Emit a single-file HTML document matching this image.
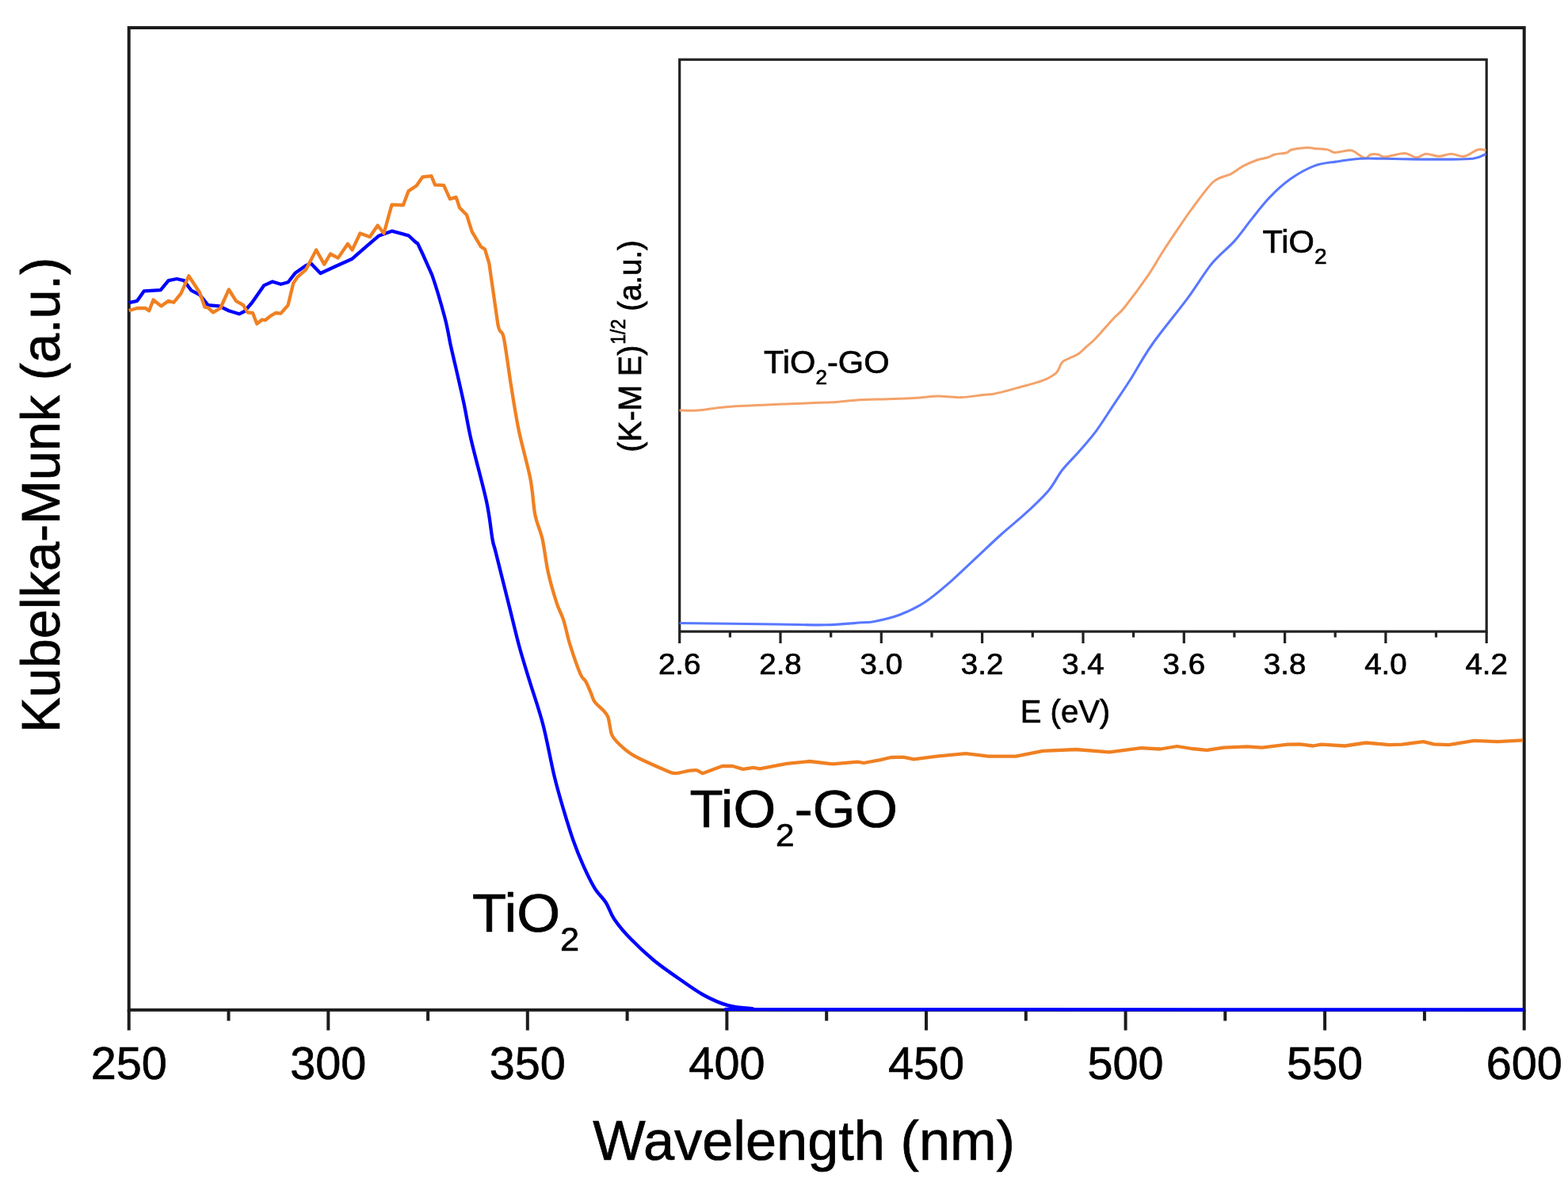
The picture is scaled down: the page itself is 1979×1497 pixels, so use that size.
<!DOCTYPE html><html><head><meta charset="utf-8"><title>Kubelka-Munk spectra</title>
<style>html,body{margin:0;padding:0;background:#fff;overflow:hidden}svg{display:block}text{font-family:"Liberation Sans", Arial, Helvetica, sans-serif;fill:#000;stroke:#000;stroke-width:0.7px;paint-order:stroke}</style></head><body>
<svg width="1979" height="1497" viewBox="0 0 1979 1497">
<rect width="1979" height="1497" fill="#fff"/>
<rect x="162.7" y="35.0" width="1761.0" height="1239.8" fill="none" stroke="#1c1c1c" stroke-width="4"/>
<path d="M162.7 1274.8V1300.5M288.5 1274.8V1288.5M414.3 1274.8V1300.5M540.1 1274.8V1288.5M665.8 1274.8V1300.5M791.6 1274.8V1288.5M917.4 1274.8V1300.5M1043.2 1274.8V1288.5M1169.0 1274.8V1300.5M1294.8 1274.8V1288.5M1420.6 1274.8V1300.5M1546.3 1274.8V1288.5M1672.1 1274.8V1300.5M1797.9 1274.8V1288.5M1923.7 1274.8V1300.5" stroke="#1c1c1c" stroke-width="4" fill="none"/>
<text transform="translate(162.7 1362.4) scale(0.99 1)" font-size="58.2" text-anchor="middle">250</text>
<text transform="translate(414.3 1362.4) scale(0.99 1)" font-size="58.2" text-anchor="middle">300</text>
<text transform="translate(665.8 1362.4) scale(0.99 1)" font-size="58.2" text-anchor="middle">350</text>
<text transform="translate(917.4 1362.4) scale(0.99 1)" font-size="58.2" text-anchor="middle">400</text>
<text transform="translate(1169.0 1362.4) scale(0.99 1)" font-size="58.2" text-anchor="middle">450</text>
<text transform="translate(1420.6 1362.4) scale(0.99 1)" font-size="58.2" text-anchor="middle">500</text>
<text transform="translate(1672.1 1362.4) scale(0.99 1)" font-size="58.2" text-anchor="middle">550</text>
<text transform="translate(1923.7 1362.4) scale(0.99 1)" font-size="58.2" text-anchor="middle">600</text>
<text transform="translate(1014.6 1463.5) scale(1.005 1)" font-size="70" text-anchor="middle">Wavelength (nm)</text>
<text transform="translate(74.8 624.8) rotate(-90) scale(0.966 1)" font-size="69" text-anchor="middle">Kubelka-Munk (a.u.)</text>
<rect x="857.7" y="75.2" width="1018.5" height="721.9" fill="none" stroke="#222" stroke-width="3.2"/>
<path d="M857.7 797.1V812.0M921.4 797.1V804.5M985.0 797.1V812.0M1048.7 797.1V804.5M1112.3 797.1V812.0M1176.0 797.1V804.5M1239.6 797.1V812.0M1303.3 797.1V804.5M1367.0 797.1V812.0M1430.6 797.1V804.5M1494.3 797.1V812.0M1557.9 797.1V804.5M1621.6 797.1V812.0M1685.2 797.1V804.5M1748.9 797.1V812.0M1812.5 797.1V804.5M1876.2 797.1V812.0" stroke="#222" stroke-width="3.2" fill="none"/>
<text transform="translate(857.7 850.9) scale(1.04 1)" font-size="37" text-anchor="middle" fill="#111">2.6</text>
<text transform="translate(985.0 850.9) scale(1.04 1)" font-size="37" text-anchor="middle" fill="#111">2.8</text>
<text transform="translate(1112.3 850.9) scale(1.04 1)" font-size="37" text-anchor="middle" fill="#111">3.0</text>
<text transform="translate(1239.6 850.9) scale(1.04 1)" font-size="37" text-anchor="middle" fill="#111">3.2</text>
<text transform="translate(1367.0 850.9) scale(1.04 1)" font-size="37" text-anchor="middle" fill="#111">3.4</text>
<text transform="translate(1494.3 850.9) scale(1.04 1)" font-size="37" text-anchor="middle" fill="#111">3.6</text>
<text transform="translate(1621.6 850.9) scale(1.04 1)" font-size="37" text-anchor="middle" fill="#111">3.8</text>
<text transform="translate(1748.9 850.9) scale(1.04 1)" font-size="37" text-anchor="middle" fill="#111">4.0</text>
<text transform="translate(1876.2 850.9) scale(1.04 1)" font-size="37" text-anchor="middle" fill="#111">4.2</text>
<text transform="translate(1344.5 912.3) scale(1.0 1)" font-size="40" text-anchor="middle">E (eV)</text>
<text transform="translate(809.2 503.2) rotate(-90) scale(0.98 1)" font-size="40" text-anchor="middle">(K-M E)</text>
<text transform="translate(789.2 418.7) rotate(-90) scale(0.9 1)" font-size="25.5" text-anchor="middle">1/2</text>
<text transform="translate(809.2 348.0) rotate(-90) scale(0.96 1)" font-size="40" text-anchor="middle">(a.u.)</text>
<path d="M857.6 518.0C861.4 518.0 870.3 518.8 880.5 518.0C890.7 517.2 901.8 514.7 918.8 513.4C935.8 512.1 963.5 511.1 982.6 510.3C1001.7 509.5 1022.4 508.7 1033.6 508.3C1044.8 507.9 1042.3 508.3 1050.0 507.8C1057.7 507.3 1068.8 505.9 1079.5 505.2C1090.2 504.5 1104.7 504.2 1114.1 503.9C1123.5 503.6 1127.8 503.5 1135.7 503.2C1143.6 502.9 1153.1 502.4 1161.2 501.9C1169.3 501.4 1175.7 500.2 1184.2 500.1C1192.7 500.1 1202.9 501.9 1212.2 501.6C1221.5 501.4 1233.0 499.3 1240.0 498.6C1247.0 497.9 1248.8 498.1 1254.1 497.2C1259.4 496.3 1265.9 494.5 1271.8 493.0C1277.7 491.5 1283.6 489.6 1289.5 488.0C1295.4 486.4 1301.9 484.8 1307.2 483.1C1312.5 481.5 1317.3 480.0 1321.4 478.1C1325.5 476.2 1329.5 473.7 1332.0 471.7C1334.5 469.7 1335.0 468.1 1336.2 466.1C1337.4 464.1 1337.9 461.5 1339.0 459.7C1340.1 457.9 1340.2 457.0 1342.6 455.5C1345.0 454.0 1350.0 452.0 1353.2 450.5C1356.4 449.0 1358.8 448.4 1361.7 446.3C1364.7 444.2 1367.9 440.5 1370.9 437.8C1374.0 435.1 1377.1 432.8 1380.0 430.0C1382.9 427.2 1383.9 426.1 1388.2 421.3C1392.5 416.5 1400.7 406.9 1405.8 401.4C1410.9 395.9 1411.7 397.4 1419.0 388.2C1426.3 379.0 1441.8 358.1 1449.9 346.3C1458.0 334.6 1460.9 328.0 1467.5 317.7C1474.1 307.4 1483.3 293.8 1489.6 284.6C1495.8 275.4 1498.0 271.8 1505.0 262.6C1512.0 253.4 1523.3 236.7 1531.4 229.5C1539.5 222.3 1547.2 222.9 1553.5 219.6C1559.8 216.3 1563.4 212.6 1568.9 209.7C1574.4 206.8 1581.3 203.8 1586.5 202.0C1591.7 200.2 1596.3 199.9 1600.0 198.7C1603.7 197.5 1604.8 196.0 1608.8 195.0C1612.8 194.0 1620.5 193.7 1624.0 192.7C1627.5 191.7 1626.0 190.1 1630.0 189.0C1634.0 187.9 1643.4 186.7 1648.2 186.4C1653.0 186.1 1654.2 187.0 1658.8 187.4C1663.3 187.8 1671.2 188.1 1675.5 188.9C1679.8 189.7 1680.0 192.3 1684.6 192.4C1689.1 192.5 1698.8 189.9 1702.8 189.7C1706.8 189.5 1705.5 189.5 1708.8 191.2C1712.1 192.8 1719.0 199.0 1722.5 199.6C1726.0 200.2 1727.3 195.8 1730.1 195.0C1732.9 194.2 1736.2 194.5 1739.2 195.0C1742.2 195.5 1742.8 198.2 1748.3 198.0C1753.8 197.8 1765.9 193.4 1772.5 193.5C1779.1 193.6 1783.2 198.7 1787.7 198.8C1792.2 198.9 1795.0 194.6 1799.8 194.3C1804.6 194.1 1811.2 197.3 1816.5 197.3C1821.8 197.3 1826.3 194.3 1831.6 194.3C1836.9 194.3 1842.7 198.2 1848.3 197.3C1853.9 196.4 1860.5 190.3 1865.0 189.0C1869.5 187.7 1873.8 189.6 1875.6 189.7" fill="none" stroke="#f4a26a" stroke-width="3" stroke-linejoin="round"/>
<path d="M857.7 786.5C878.4 786.8 950.9 787.6 981.6 788.0C1012.4 788.4 1024.5 789.2 1042.2 788.8C1059.9 788.4 1077.5 786.5 1087.7 785.8C1097.9 785.1 1095.4 786.1 1103.4 784.5C1111.4 782.9 1124.8 780.1 1135.5 776.0C1146.2 771.9 1156.8 767.0 1167.5 760.0C1178.2 753.0 1188.9 743.6 1199.6 734.3C1210.3 725.0 1221.0 714.4 1231.7 704.4C1242.4 694.4 1253.0 684.1 1263.7 674.5C1274.4 664.9 1285.8 656.0 1295.8 646.7C1305.8 637.4 1316.1 627.8 1323.6 618.9C1331.1 610.0 1334.3 601.5 1340.7 593.3C1347.1 585.1 1354.9 578.0 1362.0 569.8C1369.1 561.6 1376.3 553.7 1383.4 544.1C1390.5 534.5 1397.7 522.8 1404.8 512.1C1411.9 501.4 1417.8 492.9 1426.1 480.0C1434.3 467.1 1442.2 451.6 1454.3 434.5C1466.3 417.4 1485.9 394.1 1498.4 377.2C1510.9 360.3 1519.3 345.2 1529.2 333.1C1539.1 321.0 1549.4 313.9 1557.9 304.4C1566.4 294.9 1572.5 285.4 1580.0 276.1C1587.5 266.8 1594.6 257.1 1602.7 248.8C1610.8 240.5 1619.2 232.7 1628.5 226.1C1637.8 219.5 1649.2 213.1 1658.8 209.4C1668.4 205.7 1676.5 205.6 1686.1 204.1C1695.7 202.6 1706.3 200.9 1716.4 200.3C1726.5 199.7 1734.1 200.2 1746.7 200.3C1759.3 200.4 1779.6 201.0 1792.2 201.1C1804.8 201.2 1811.4 201.2 1822.5 201.1C1833.6 201.0 1850.1 201.4 1858.9 200.3C1867.8 199.2 1872.8 195.3 1875.6 194.3" fill="none" stroke="#5878ff" stroke-width="3.1" stroke-linejoin="round"/>
<path d="M162.7 382.5L163.9 381.8L173.1 379.8L181.7 367.4L202.7 366.1L212.6 354.2L223.1 352.0L232.3 354.2L241.5 366.7L252.0 372.0L262.5 385.1L276.9 386.4L288.8 392.3L301.9 396.3L308.5 393.0L317.7 382.5L333.4 360.1L343.9 355.5L354.4 358.8L363.6 356.2L372.8 344.4L386.0 335.2L392.5 332.6L404.4 345.0L422.2 336.7L444.5 326.7L462.3 311.2L477.8 297.8L494.5 291.7L515.6 297.3L524.5 305.6L527.2 307.4L533.4 320.5L545.3 347.1C550.0 360.6 557.6 386.5 561.5 401.2C565.4 415.9 566.7 426.5 568.7 435.5C570.7 444.5 570.5 443.3 573.3 455.4C576.1 467.5 581.7 491.5 585.3 508.3C588.9 525.1 590.1 535.5 594.9 556.3C599.7 577.1 609.7 612.7 614.1 633.3C618.5 653.9 619.5 669.4 621.4 680.0C623.3 690.6 622.1 682.9 625.7 697.1C629.3 711.4 637.8 745.5 642.8 765.5C647.8 785.5 651.3 801.1 655.6 816.8C659.9 832.5 663.4 843.2 668.4 859.6C673.4 876.0 680.3 895.1 685.5 915.2C690.7 935.3 695.4 962.3 699.7 980.0C704.0 997.7 707.1 1007.9 711.1 1021.4C715.1 1034.9 719.4 1049.1 723.5 1060.8C727.6 1072.5 731.4 1081.8 735.9 1091.8C740.4 1101.8 745.6 1112.8 750.4 1120.8C755.2 1128.8 760.8 1132.9 764.9 1139.5C769.0 1146.1 770.1 1152.6 775.3 1160.2C780.5 1167.8 787.7 1176.5 796.0 1185.1C804.3 1193.7 815.0 1203.7 825.0 1212.0C835.0 1220.3 845.8 1227.5 856.1 1234.8C866.5 1242.0 876.8 1249.8 887.1 1255.5C897.5 1261.2 907.8 1266.0 918.2 1268.9C928.6 1271.8 935.7 1272.2 949.3 1273.1C962.9 1274.0 837.6 1273.9 1000.0 1274.1L1923.7 1274.5" fill="none" stroke="#0000ff" stroke-width="4.3" stroke-linejoin="round"/>
<path d="M162.7 392.0L163.9 391.7L173.1 389.0L183.6 389.0L188.2 392.3L193.5 378.5L203.4 386.4L212.6 379.8L219.1 381.8L228.3 370.7L238.2 348.3L252.0 369.3L258.5 387.7L262.5 388.4L269.0 394.3L278.2 389.0L288.8 365.4L297.9 379.8L307.1 385.1L312.4 394.3L319.0 395.0L324.2 408.8L330.8 403.5L334.7 404.2L341.3 398.9L347.9 395.0L354.4 395.6L363.6 385.1L370.2 357.5L375.5 349.6L386.0 340.4L399.1 315.5L409.2 333.6L417.0 320.5L426.7 325.6L438.9 307.8L444.5 315.6L454.5 294.5L466.7 298.9L476.7 284.5L484.5 294.5L494.5 258.4L508.9 258.9L515.6 241.1L525.6 234.5L533.4 223.3L544.5 222.2L549.0 233.4L560.1 233.9L567.9 251.1L575.7 248.9L580.1 262.3L589.0 271.2L595.7 292.3L606.8 311.2L612.0 314.6L617.4 332.7L628.4 409.5C631.5 425.1 633.0 413.2 635.8 426.5C638.6 439.8 642.2 469.4 645.4 489.0C648.6 508.6 651.0 525.1 655.0 544.3C659.0 563.5 666.0 586.8 669.4 604.4C672.8 622.0 672.9 637.5 675.4 650.1C677.9 662.7 681.8 667.9 684.5 680.0C687.2 692.1 688.9 709.3 691.9 722.8C694.9 736.3 699.4 751.2 702.6 761.2C705.8 771.2 708.4 773.7 711.2 782.6C714.1 791.5 716.1 803.3 719.7 814.7C723.3 826.1 729.4 843.5 732.6 851.0C735.9 858.5 737.0 856.1 739.2 860.0C741.4 863.9 743.8 870.1 745.7 874.4C747.6 878.7 747.8 882.0 750.5 885.7C753.2 889.5 758.9 893.7 761.7 896.9C764.5 900.1 766.0 901.7 767.3 904.9C768.6 908.1 768.9 912.4 769.7 916.1C770.5 919.8 770.8 924.1 772.1 927.3C773.4 930.5 774.8 932.2 777.7 935.4C780.6 938.6 786.0 943.5 789.7 946.6C793.5 949.7 795.8 951.3 800.2 953.8C804.6 956.3 809.6 958.7 816.2 961.8C822.8 964.9 834.0 969.8 840.0 972.2C846.0 974.6 847.4 976.0 852.3 976.1C857.2 976.2 864.8 973.5 869.4 972.9C874.0 972.3 877.1 971.8 880.0 972.3L886.6 976.2L911.5 967.0L924.7 967.0L937.8 970.9L950.9 968.8L958.8 970.4L993.0 963.8L1021.9 961.0L1050.8 964.4L1082.3 961.7L1090.2 963.0L1111.2 959.1L1124.4 956.0L1140.1 955.7L1153.3 958.3L1182.2 954.7L1218.9 951.2L1247.8 954.7L1282.0 954.7L1316.2 947.8L1358.2 946.0L1400.0 949.4L1440.2 944.2L1464.3 945.5L1485.7 942.0L1504.4 945.0L1523.2 946.9L1544.6 943.7L1574.1 942.3L1592.8 943.7L1625.0 939.6L1641.0 939.4L1657.1 941.5L1667.8 939.6L1697.3 941.5L1724.1 937.5L1753.5 940.2L1769.6 939.6L1796.4 936.2L1809.7 939.4L1828.5 940.2L1860.6 934.8L1890.1 936.2L1922.2 934.3" fill="none" stroke="#f08022" stroke-width="4.3" stroke-linejoin="round"/>
<text transform="translate(870.5 1044.0) scale(1.021 1)" font-size="67.6">TiO<tspan font-size="41.5" dy="24">2</tspan><tspan dy="-24">-GO</tspan></text>
<text transform="translate(596 1175.8) scale(1.02 1)" font-size="69.2">TiO<tspan font-size="42.5" dy="24">2</tspan></text>
<text transform="translate(964 470.9) scale(1.04 1)" font-size="40">TiO<tspan font-size="25" dy="14">2</tspan><tspan dy="-14">-GO</tspan></text>
<text transform="translate(1593.5 318.6) scale(1.04 1)" font-size="40">TiO<tspan font-size="27" dy="14">2</tspan></text>
</svg></body></html>
